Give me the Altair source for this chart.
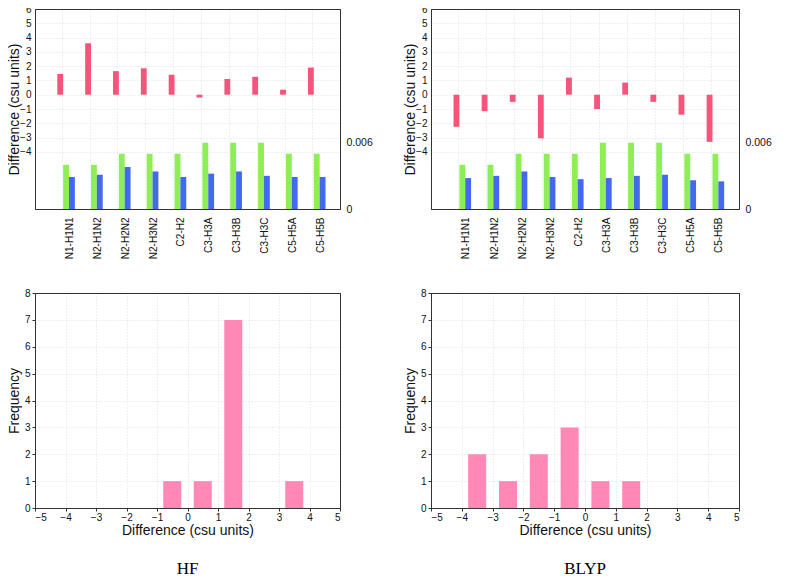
import altair as alt
import pandas as pd

bonds = ["N1-H1N1", "N2-H1N2", "N2-H2N2", "N2-H3N2", "C2-H2",
         "C3-H3A", "C3-H3B", "C3-H3C", "C5-H5A", "C5-H5B"]

hf_diff = [1.45, 3.6, 1.65, 1.85, 1.4, -0.2, 1.1, 1.25, 0.35, 1.9]
hf_green = [0.0040, 0.0040, 0.0050, 0.0050, 0.0050, 0.0060, 0.0060, 0.0060, 0.0050, 0.0050]
hf_blue = [0.0029, 0.0031, 0.0038, 0.0034, 0.0029, 0.0032, 0.0034, 0.0030, 0.0029, 0.0029]

blyp_diff = [-2.25, -1.15, -0.5, -3.05, 1.2, -1.0, 0.85, -0.5, -1.4, -3.3]
blyp_green = [0.0040, 0.0040, 0.0050, 0.0050, 0.0050, 0.0060, 0.0060, 0.0060, 0.0050, 0.0050]
blyp_blue = [0.0028, 0.0030, 0.0034, 0.0029, 0.0027, 0.0028, 0.0030, 0.0031, 0.0026, 0.0025]

bin_centers = [-4.5, -3.5, -2.5, -1.5, -0.5, 0.5, 1.5, 2.5, 3.5, 4.5]
hf_counts = [0, 0, 0, 0, 1, 1, 7, 0, 1, 0]
blyp_counts = [0, 2, 1, 2, 3, 1, 1, 0, 0, 0]

RED = "#F5557A"
GREEN = "#8EEE55"
BLUE = "#4468EE"
PINK = "#FF88B6"
GRID = "#D8DEE6"
FRAME = "#333333"
FONT = "Liberation Sans"
SERIES = ["diff", "green", "blue"]


def grid_color(test):
    return {"condition": {"test": test, "value": FRAME}, "value": GRID}


def grid_dash(test):
    return {"condition": {"test": test, "value": []}, "value": [1, 2]}


def top_panel(diff, green, blue, w):
    df = pd.DataFrame({"bond": bonds, "diff": diff, "green": green, "blue": blue})
    x = alt.X("bond:N", sort=bonds,
              scale=alt.Scale(paddingInner=0.37, paddingOuter=0.661, align=0.606),
              axis=alt.Axis(title=None, labelAngle=-90, labelFontSize=10,
                            labelPadding=8, grid=True, gridDash=[1, 2], gridColor=GRID,
                            bandPosition=0.28, labelOffset=4, ticks=False, domain=False))
    xo = alt.XOffset("series:N", sort=SERIES,
                     scale=alt.Scale(domain=SERIES, paddingInner=0, paddingOuter=0))
    right_axis = alt.Axis(orient="right", values=[0, 0.006], format="~g", title=None,
                          grid=False, ticks=False, labelPadding=6, labelFontSize=10.5)
    sec_scale = alt.Scale(domain=[0, 0.0181], nice=False)
    base = alt.Chart(df)
    red = base.transform_calculate(series="'diff'").mark_bar(color=RED).encode(
        x=x,
        xOffset=xo,
        y=alt.Y("diff:Q", scale=alt.Scale(domain=[-8, 6], nice=False),
                axis=alt.Axis(title="Difference (csu units)", values=list(range(-4, 7)),
                              grid=True, gridDash=grid_dash("datum.value >= 6"),
                              gridColor=grid_color("datum.value >= 6"),
                              titleFontSize=14, titleFontWeight="normal",
                              titleX=-14, titleY=100,
                              ticks=False, labelPadding=4, labelFontSize=10)),
    )
    g = base.transform_calculate(series="'green'").mark_bar(color=GREEN).encode(
        x=x, xOffset=xo,
        y=alt.Y("green:Q", scale=sec_scale, axis=right_axis),
    )
    b = base.transform_calculate(series="'blue'").mark_bar(color=BLUE).encode(
        x=x, xOffset=xo,
        y=alt.Y("blue:Q", scale=sec_scale, axis=right_axis),
    )
    gb = alt.layer(g, b)
    return alt.layer(red, gb).resolve_scale(y="independent").properties(width=w, height=200)


def hist_panel(counts, w, label):
    df = pd.DataFrame({"center": bin_centers, "count": counts})
    return alt.Chart(df).mark_bar(size=18, color=PINK).encode(
        x=alt.X("center:Q", scale=alt.Scale(domain=[-5, 5], nice=False, padding=0),
                axis=alt.Axis(title="Difference (csu units)", values=list(range(-5, 6)),
                              grid=True, gridDash=grid_dash("abs(datum.value) >= 5"),
                              gridColor=grid_color("abs(datum.value) >= 5"), tickSize=3,
                              labelFontSize=10, titleFontSize=14, titleFontWeight="normal",
                              titlePadding=1, labelPadding=1)),
        y=alt.Y("count:Q", scale=alt.Scale(domain=[0, 8], nice=False),
                axis=alt.Axis(title="Frequency", values=list(range(0, 9)),
                              grid=True, gridDash=grid_dash("datum.value >= 8"),
                              gridColor=grid_color("datum.value >= 8"), tickSize=3,
                              labelFontSize=10, titleFontSize=14, titleFontWeight="normal",
                              titleX=-14, titleY=107.5, labelPadding=2)),
    ).properties(
        width=w, height=215,
        title=alt.TitleParams(label, orient="bottom", font="Liberation Serif", fontSize=17,
                              fontWeight="normal", offset=24, color="black"),
    )


chart = alt.concat(
    top_panel(hf_diff, hf_green, hf_blue, 305),
    top_panel(blyp_diff, blyp_green, blyp_blue, 308),
    hist_panel(hf_counts, 305, "HF"),
    hist_panel(blyp_counts, 308, "BLYP"),
    columns=2, spacing={"row": 27, "column": 29},
).properties(
    padding={"top": -5, "left": -2, "right": 0, "bottom": 0}
).configure_view(
    stroke=FRAME, strokeWidth=1
).configure_axis(
    labelFont=FONT, titleFont=FONT, labelColor="#111111", titleColor="#111111",
    domainColor=FRAME, tickColor=FRAME
)

chart.save("out.html", embed_options={"renderer": "svg", "actions": False})
